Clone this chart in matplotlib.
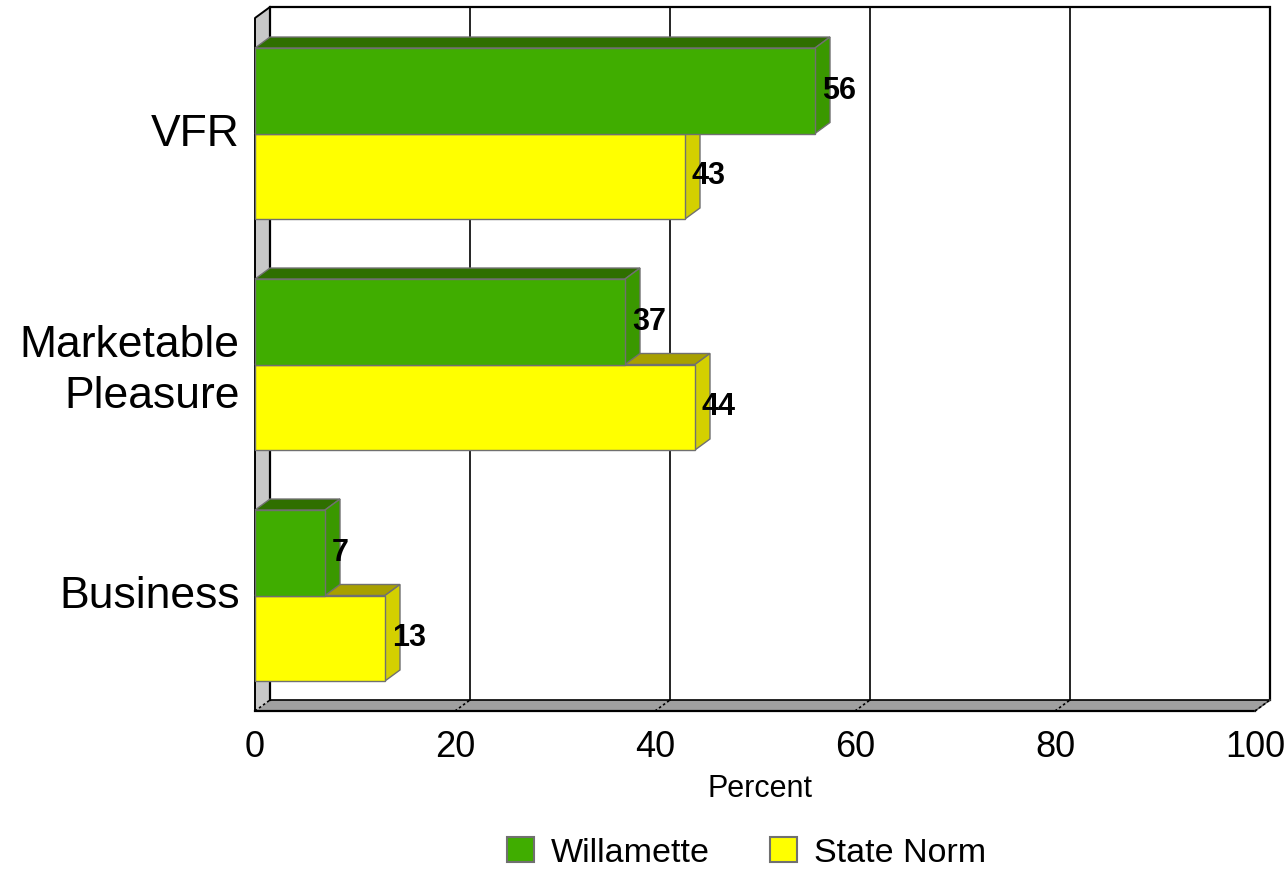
import matplotlib
matplotlib.use("Agg")
import matplotlib.pyplot as plt
import matplotlib.transforms as mtransforms
from matplotlib.patches import Polygon, Rectangle, Patch

# Survey data: trip purpose shares (percent)
categories = ["VFR", "Marketable\nPleasure", "Business"]
willamette = [56, 37, 7]
state_norm = [43, 44, 13]
series_names = ["Willamette", "State Norm"]
x_ticks = [0, 20, 40, 60, 80, 100]

plt.rcParams["font.family"] = ["Liberation Sans", "DejaVu Sans"]

# colours: front face, top face, side face
GREEN = ("#40ad00", "#2f6f00", "#3a9800")
YELLOW = ("#ffff00", "#a8a000", "#d4d000")
EDGE = "#707070"

fig = plt.figure(figsize=(12.87, 8.70), dpi=100)
W, H = 1287, 870
front_left, front_right, front_top, front_bottom = 255, 1255, 19, 712
ax = fig.add_axes([front_left / W, 1 - front_bottom / H,
                   (front_right - front_left) / W, (front_bottom - front_top) / H])

n = len(categories)
ax.set_xlim(0, 100)
ax.set_ylim(0, n)
# 3-D depth offset in data units
px_per_y = (front_bottom - front_top) / n
DX = 1.5
DY = 11 / px_per_y

for s in ax.spines.values():
    s.set_visible(False)

# back wall
back = Rectangle((DX, DY), 100, n, facecolor="white", edgecolor="none",
                 clip_on=False, zorder=0)
ax.add_patch(back)
ax.plot([DX, DX, 100 + DX, 100 + DX], [DY, n + DY, n + DY, DY],
        color="black", lw=1.6, clip_on=False, zorder=1, solid_joinstyle="miter")
# left side wall
left_wall = Polygon([(0, 0), (DX, DY), (DX, n + DY), (0, n)], closed=True,
                    facecolor="#c8c8c8", edgecolor="none", clip_on=False, zorder=0.5)
ax.add_patch(left_wall)
ax.plot([0, 0, DX], [0, n, n + DY], color="black", lw=1.4, clip_on=False, zorder=1)
# floor
floor = Polygon([(0, 0), (100, 0), (100 + DX, DY), (DX, DY)], closed=True,
                facecolor="#a0a0a0", edgecolor="none", clip_on=False, zorder=0.5)
ax.add_patch(floor)
ax.plot([0, 100], [0, 0], color="black", lw=1.6, clip_on=False, zorder=1)
ax.plot([DX, 100 + DX], [DY, DY], color="black", lw=1.2, clip_on=False, zorder=1)
ax.plot([100, 100 + DX], [0, DY], color="#505050", lw=1.0, clip_on=False, zorder=1)

# gridlines on the back wall and diagonal tick marks on the floor
for t in x_ticks:
    if 0 < t < 100:
        ax.plot([t + DX, t + DX], [DY, n + DY], color="black", lw=1.2,
                clip_on=False, zorder=1)
    ax.plot([t, t + DX], [0, DY], color="black", lw=1.2, ls=(0, (1.5, 1.5)),
            clip_on=False, zorder=1.1)

BAR_H = 0.37


def bar3d(value, y0, colors):
    front, top, side = colors
    y1 = y0 + BAR_H
    ax.add_patch(Polygon([(0, y1), (value, y1), (value + DX, y1 + DY), (DX, y1 + DY)],
                         closed=True, facecolor=top, edgecolor=EDGE, lw=1.0,
                         clip_on=False, zorder=2, joinstyle="miter"))
    ax.add_patch(Polygon([(value, y0), (value + DX, y0 + DY), (value + DX, y1 + DY), (value, y1)],
                         closed=True, facecolor=side, edgecolor=EDGE, lw=1.0,
                         clip_on=False, zorder=2, joinstyle="miter"))
    ax.add_patch(Rectangle((0, y0), value, BAR_H, facecolor=front, edgecolor=EDGE,
                           lw=1.0, clip_on=False, zorder=2, joinstyle="miter"))
    ax.text(value + 0.7, y0 + BAR_H / 2 + 0.005, f"{value:g}", ha="left", va="center",
            fontsize=22, fontweight="bold", color="black", zorder=5)


centers = [n - 0.5 - i for i in range(n)]
for c, w, s in zip(centers, willamette, state_norm):
    bar3d(s, c - BAR_H, YELLOW)
    bar3d(w, c, GREEN)

ax.set_xticks(x_ticks)
ax.set_xticklabels([str(t) for t in x_ticks], fontsize=26)
ax.set_yticks(centers)
ax.set_yticklabels(categories, fontsize=32, linespacing=1.3)
ax.tick_params(axis="x", length=0, pad=13)
ax.tick_params(axis="y", length=0, pad=11)
lift = mtransforms.ScaledTranslation(0, 4 / 100, fig.dpi_scale_trans)
for lbl in ax.get_yticklabels():
    lbl.set_transform(lbl.get_transform() + lift)

ax.set_xlabel("Percent", fontsize=22)
ax.xaxis.set_label_coords(0.505, -0.111)
ax.xaxis.label.set_va("center")

handles = [Patch(facecolor=GREEN[0], edgecolor=EDGE, lw=1.5),
           Patch(facecolor=YELLOW[0], edgecolor=EDGE, lw=1.5)]
fig.legend(handles, series_names, loc="center", bbox_to_anchor=(0.58, 0.019),
           ncol=2, frameon=False, fontsize=24.5, handlelength=0.8,
           handleheight=0.75, handletextpad=0.5, columnspacing=1.75,
           borderpad=0, borderaxespad=0)

fig.savefig("out.png", dpi=100)
